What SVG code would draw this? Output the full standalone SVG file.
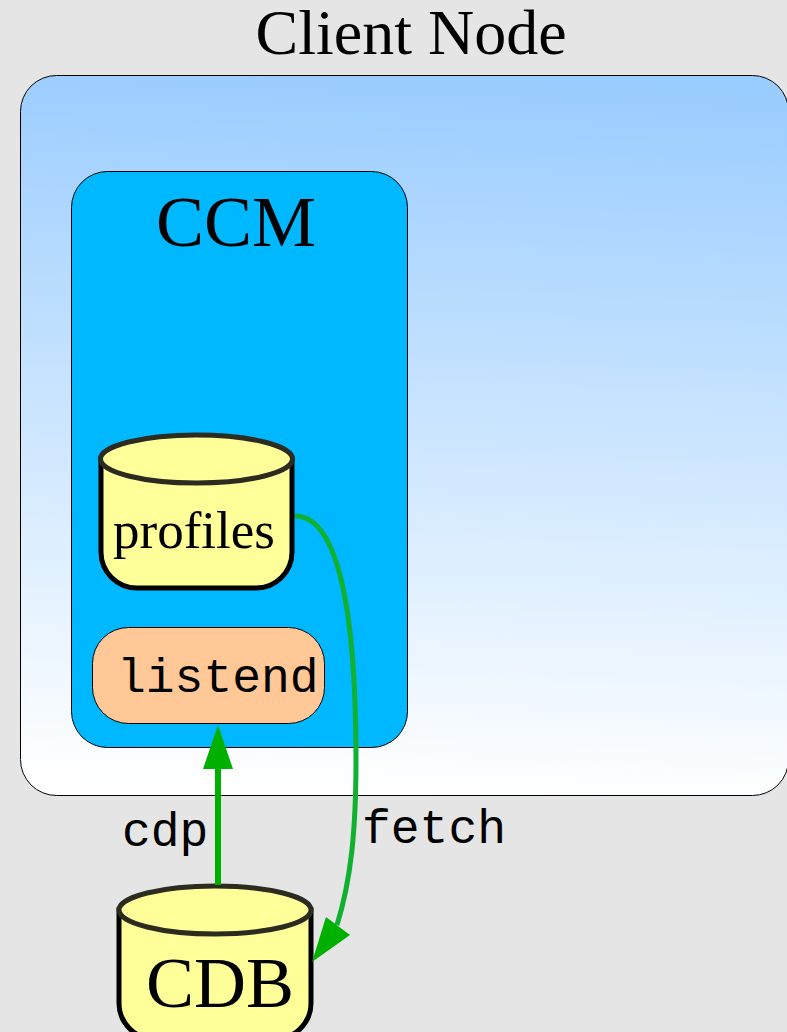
<svg xmlns="http://www.w3.org/2000/svg" width="787" height="1032" viewBox="0 0 787 1032">
<style>
.box{stroke:#000;stroke-width:1}
.serif{font-family:"Liberation Serif","Times New Roman",serif;fill:#000}
.mono{font-family:"Liberation Mono","Courier New",monospace;font-size:48px;fill:#000}
.cylbody{fill:#ffff99;stroke:#000;stroke-width:5}
.cyltop{fill:#ffff99;stroke:#2b2b20;stroke-width:5}
</style>
<defs>
<linearGradient id="sky" gradientUnits="userSpaceOnUse" x1="440" y1="795" x2="470" y2="75">
<stop offset="0" stop-color="#ffffff"/>
<stop offset="1" stop-color="#99ccff"/>
</linearGradient>
</defs>
<rect width="787" height="1032" fill="#e5e5e5"/>
<g id="client-node">
<rect class="box" x="20.5" y="75.5" width="768" height="720" rx="36" ry="36" fill="url(#sky)"/>
<text class="serif" x="411" y="54" font-size="64" text-anchor="middle">Client Node</text>
</g>
<g id="ccm">
<rect class="box" x="71.5" y="171.5" width="336" height="576" rx="36" ry="36" fill="#00b8ff"/>
<text class="serif" x="236" y="246" font-size="72" text-anchor="middle">CCM</text>
</g>
<g id="profiles">
<path class="cylbody" d="M101 459V552A36 36 0 0 0 137 588H256A36 36 0 0 0 292 552V459Z"/>
<ellipse class="cyltop" cx="196.500" cy="459" rx="96" ry="24"/>
<text class="serif" x="194" y="548" font-size="53" text-anchor="middle">profiles</text>
</g>
<g id="listend">
<rect class="box" x="92.500" y="627.500" width="232" height="96" rx="36" ry="36" fill="#ffc896"/>
<text class="mono" x="117" y="692">listend</text>
</g>
<g id="cdb">
<path class="cylbody" d="M119 910V1003A36 36 0 0 0 155 1039H275A36 36 0 0 0 311 1003V910Z"/>
<ellipse class="cyltop" cx="215" cy="910" rx="96" ry="24"/>
<text class="serif" x="220" y="1007" font-size="72" text-anchor="middle">CDB</text>
</g>
<g id="connectors">
<path d="M218 885V766" fill="none" stroke="#00b000" stroke-width="6"/>
<polygon points="218,725 233,769 203,769" fill="#00b000"/>
<path d="M295 516C338 516 356 610 356 760C356 830 351 880 337 925" fill="none" stroke="#10b030" stroke-width="5"/>
<polygon points="312,962 326,917 350,935" fill="#00b000"/>
</g>
<g id="labels">
<text class="mono" x="122" y="846">cdp</text>
<text class="mono" x="362" y="843">fetch</text>
</g>
</svg>
